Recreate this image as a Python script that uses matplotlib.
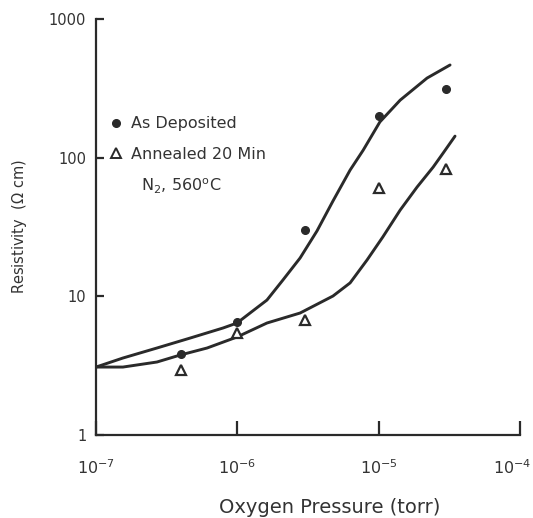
import matplotlib
matplotlib.use("Agg")
import matplotlib.pyplot as plt
from matplotlib.lines import Line2D
from matplotlib.ticker import FixedLocator, NullLocator, FixedFormatter
from matplotlib.transforms import ScaledTranslation

plt.rcParams['font.family'] = ['DejaVu Sans']
plt.rcParams['mathtext.fontset'] = 'dejavusans'

# ---- data ----
pressure_pts = [4e-7, 1e-6, 3e-6, 1e-5, 3e-5]
as_deposited = [3.83, 6.5, 29.9, 200, 313]
annealed = [2.94, 5.4, 6.7, 60.8, 83]

upper_x = [1.00e-7, 1.55e-7, 2.70e-7, 4.63e-7, 7.92e-7, 9.95e-7, 1.23e-6, 1.62e-6,
           2.10e-6, 2.78e-6, 3.66e-6, 4.75e-6, 6.28e-6, 7.76e-6, 1.02e-5, 1.42e-5,
           2.20e-5, 3.20e-5]
upper_y = [3.09, 3.59, 4.24, 5.00, 5.91, 6.42, 7.58, 9.40, 13.1, 18.9, 29.6, 48.7,
           81.4, 113, 181, 260, 375, 466]

lower_x = [1.00e-7, 1.55e-7, 2.70e-7, 3.93e-7, 6.11e-7, 9.95e-7, 1.62e-6, 2.78e-6,
           4.75e-6, 6.28e-6, 8.28e-6, 1.07e-5, 1.42e-5, 1.87e-5, 2.43e-5, 2.86e-5,
           3.47e-5]
lower_y = [3.09, 3.09, 3.36, 3.77, 4.24, 5.09, 6.42, 7.58, 10.05, 12.5, 18.3, 26.8,
           41.9, 61.4, 85.5, 108, 143]

x_ticks = [1e-7, 1e-6, 1e-5, 1e-4]
x_tick_labels = [r'$10^{-7}$', r'$10^{-6}$', r'$10^{-5}$', r'$10^{-4}$']
y_ticks = [1, 10, 100, 1000]
y_tick_labels = ['1', '10', '100', '1000']

ink = '#2a2a2a'
txt = '#333333'

fig = plt.figure(figsize=(5.33, 5.18), dpi=100)
ax = fig.add_axes([96/533, 1-435/518, (520-96)/533, (435-19)/518])
ax.set_xscale('log')
ax.set_yscale('log')
ax.set_xlim(1e-7, 1e-4)
ax.set_ylim(1, 1000)

ax.plot(upper_x, upper_y, color=ink, lw=2.1, solid_capstyle='round', solid_joinstyle='round')
ax.plot(lower_x, lower_y, color=ink, lw=2.1, solid_capstyle='round', solid_joinstyle='round')
ax.plot(pressure_pts, as_deposited, 'o', color=ink, ms=5.5, ls='none')
ax.plot(pressure_pts, annealed, '^', mfc='white', mec=ink, mew=1.6, ms=7, ls='none')

for s in ['top', 'right']:
    ax.spines[s].set_visible(False)
for s in ['left', 'bottom']:
    ax.spines[s].set_linewidth(1.6)
    ax.spines[s].set_color(ink)

ax.xaxis.set_major_locator(FixedLocator(x_ticks))
ax.xaxis.set_major_formatter(FixedFormatter(x_tick_labels))
ax.yaxis.set_major_locator(FixedLocator(y_ticks))
ax.yaxis.set_major_formatter(FixedFormatter(y_tick_labels))
ax.xaxis.set_minor_locator(NullLocator())
ax.yaxis.set_minor_locator(NullLocator())
ax.tick_params(axis='x', direction='in', length=10, width=1.6, color=ink,
               labelsize=11.5, labelcolor=txt, pad=17)
ax.tick_params(axis='y', direction='in', length=6, width=1.6, color=ink,
               labelsize=10.5, labelcolor=txt, pad=7)

# keep the last x tick label inside the figure
last = ax.xaxis.get_major_ticks()[-1].label1
last.set_transform(last.get_transform() + ScaledTranslation(-8/100, 0, fig.dpi_scale_trans))

ax.set_xlabel('Oxygen Pressure (torr)', fontsize=14, color=txt, labelpad=15)
ax.xaxis.label.set_x((330 - 96) / 424)
ax.set_ylabel(r'Resistivity  ($\Omega$ cm)', fontsize=10.5, color=txt, labelpad=14)

handles = [Line2D([], [], marker='o', color=ink, ls='none', ms=5.5),
           Line2D([], [], marker='^', mfc='white', mec=ink, mew=1.4, ls='none', ms=7),
           Line2D([], [], ls='none')]
labels = ['As Deposited', 'Annealed 20 Min', r'  N$_2$, 560$^{\mathrm{o}}$C']
leg = ax.legend(handles, labels, loc='upper left', bbox_to_anchor=(0.01, 0.785),
                frameon=False, handlelength=1.0, handletextpad=0.45,
                labelspacing=0.95, borderpad=0, fontsize=11.5)
for t in leg.get_texts():
    t.set_color(txt)

fig.savefig('out.png', dpi=100)
